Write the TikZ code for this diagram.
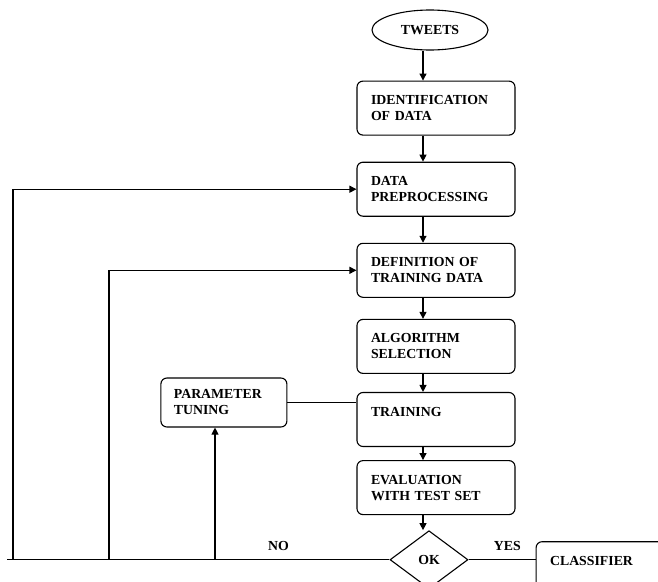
\documentclass[tikz,border=0pt]{standalone}
\usepackage{fontspec}
\setmainfont{Liberation Serif}
\usetikzlibrary{arrows.meta, shapes, positioning}

\begin{document}
\begin{tikzpicture}[x=1pt, y=1pt, node distance=23pt, line width=1.1pt,
                    >={Triangle[length=7pt,width=7pt]},
                    font=\bfseries\fontsize{13.8}{16}\selectfont,
                    flow box/.style= {rectangle,
                      rounded corners=6pt,
                      draw,
                      text width=130pt,
                      inner xsep=14pt,
                      align=left,
                      minimum height=54pt},
                    end node/.style= {ellipse,
                      draw,
                      inner sep=0pt,
                      minimum width=116pt,
                      minimum height=40pt},
                    test node/.style= {diamond,
                      draw,
                      inner sep=0pt,
                      aspect=1.34,
                      minimum width=78pt,
                      minimum height=58pt}]

  \clip (0,0) rectangle (658,-581);

  \node[end node] (1) at (430,-30) {TWEETS};
  \node[flow box] (2) [below=30pt of 1, xshift=6pt] {IDENTIFICATION\\OF DATA};
  \node[flow box] (3) [below=26pt of 2] {DATA\\PREPROCESSING};
  \node[flow box] (4) [below=26pt of 3] {DEFINITION OF\\TRAINING DATA};
  \node[flow box] (5) [below=21pt of 4] {ALGORITHM\\SELECTION};
  \node[flow box] (6) [below=18pt of 5] {TRAINING\\\mbox{}};
  \node[flow box] (7) [below=13pt of 6] {EVALUATION\\WITH TEST SET};
  \node[test node] (8) [below=15pt of 7, xshift=-7pt] {OK};
  \node[flow box, text width=150pt] (9) [right=67pt of 8, yshift=-9pt] {CLASSIFIER\\\mbox{}};
  \node[flow box, text width=100pt, inner xsep=13pt, minimum height=49pt] (10)
       [left=69pt of 6, yshift=17pt] {PARAMETER\\TUNING};

  % main line and the three ways back
  \coordinate (s) at (423,0);
  \coordinate (a) at (13,0);
  \coordinate (b) at (109,0);
  \coordinate (c) at (215,0);
  \coordinate (e) at (7,0);

  \draw[->] (1.south -| s) -- (2.north -| s);
  \draw[->] (2.south -| s) -- (3.north -| s);
  \draw[->] (3.south -| s) -- (4.north -| s);
  \draw[->] (4.south -| s) -- (5.north -| s);
  \draw[->] (5.south -| s) -- (6.north -| s);
  \draw[->] (6.south -| s) -- (7.north -| s);
  \draw[->] (7.south -| s) -- (8.north -| s);

  \draw (8.west) -- node[above=5pt, pos=.29] {NO} (8.west -| e);
  \draw[->] (8.west -| a) |- (3.west);
  \draw[->] (8.west -| b) |- (4.west);
  \draw[->] (8.west -| c) -- (c |- 10.south);
  \draw (10.east) -- (10.east -| 6.west);
  \draw (8.east) -- node[above=5pt, pos=.58] {YES} (8.east -| 9.west);
\end{tikzpicture}
\end{document}
